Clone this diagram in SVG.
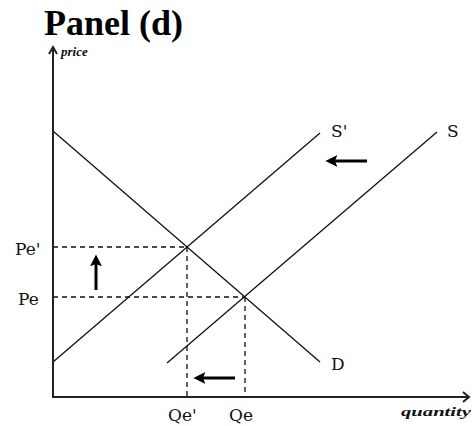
<svg xmlns="http://www.w3.org/2000/svg" width="473" height="426" viewBox="0 0 473 426">
<style>
.axis{stroke:#222;stroke-width:2;fill:none}
.curve{stroke:#111;stroke-width:1.3;fill:none}
.dash{stroke:#111;stroke-width:1.3;stroke-dasharray:5,4;fill:none}
.lbl{font-family:"DejaVu Serif","Liberation Serif",serif;font-size:17px;fill:#111}
.ax{font-family:"Liberation Serif",serif;font-style:italic;font-weight:bold;font-size:13px;fill:#111}
.shift{stroke:#000;stroke-width:3;fill:none}
</style>
<defs>
<marker id="head" viewBox="0 0 10 10" refX="2" refY="5" markerWidth="4" markerHeight="4" orient="auto" markerUnits="strokeWidth">
<path d="M0,0 L10,5 L0,10 L2,5 Z" fill="#000"/>
</marker>
</defs>
<rect width="473" height="426" fill="#fff"/>
<text x="44" y="35" font-family="Liberation Serif,serif" font-weight="bold" font-size="36" fill="#000">Panel (d)</text>
<g id="axes">
<path class="axis" d="M53,47 L53,397 L469,397"/>
<path class="axis" stroke-width="1.3" d="M49,54 L53,47 L57,54"/>
<path class="axis" stroke-width="1.3" d="M463,392 L469,397 L463,402"/>
<text class="ax" x="61" y="56">price</text>
<text class="ax" x="401" y="416" textLength="70" lengthAdjust="spacingAndGlyphs">quantity</text>
</g>
<g id="connectors">
<path class="dash" d="M53,247 L187,247 M53,297 L245,297 M187,247 L187,397 M245,297 L245,397"/>
<path class="shift" marker-end="url(#head)" d="M96,290 L96,264"/>
<path class="shift" marker-end="url(#head)" d="M367,161 L335,161"/>
<path class="shift" marker-end="url(#head)" d="M235,378 L203,378"/>
</g>
<g id="D">
<path class="curve" d="M53,131 L320,362"/>
<text class="lbl" x="331" y="370">D</text>
</g>
<g id="Sprime">
<path class="curve" d="M53,362 L320,133"/>
<text class="lbl" x="331" y="137">S'</text>
</g>
<g id="S">
<path class="curve" d="M167,363 L437,132"/>
<text class="lbl" x="447" y="137">S</text>
</g>
<g id="price-labels">
<text class="lbl" x="15" y="255">Pe'</text>
<text class="lbl" x="18" y="305">Pe</text>
</g>
<g id="qty-labels">
<text class="lbl" x="168" y="421">Qe'</text>
<text class="lbl" x="229" y="421">Qe</text>
</g>
</svg>
